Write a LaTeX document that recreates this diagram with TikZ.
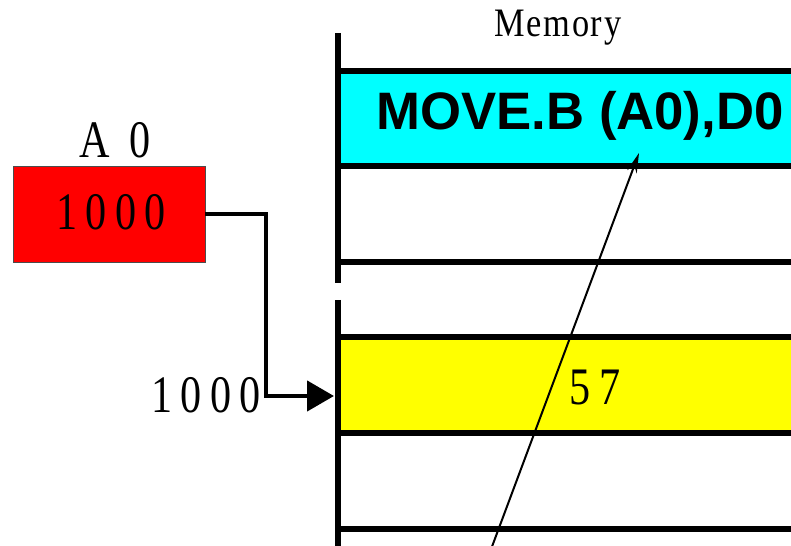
\documentclass[tikz,border=0pt]{standalone}
\usepackage{fontspec}
\setmainfont{Liberation Serif}
\newfontfamily\numfont[FakeStretch=0.8,LetterSpace=16]{Liberation Serif}
\newfontfamily\memfont[FakeStretch=0.85,LetterSpace=4]{Liberation Serif}
\newfontfamily\opfont{Liberation Sans}
\usetikzlibrary{arrows.meta}
\definecolor{inscyan}{RGB}{0,255,255}
\definecolor{datayellow}{RGB}{255,255,0}
\definecolor{regred}{RGB}{255,0,0}

\begin{document}
\begin{tikzpicture}[x=0.02cm,y=-0.02cm,>=stealth,
		bar/.style={line width=0.12cm},
		cell/.style={inner sep=0pt,minimum width=9cm,minimum height=1.9cm,anchor=north west},
		num/.style={font=\numfont\fontsize{30}{32}\selectfont,inner sep=0pt,anchor=base}]
	\useasboundingbox (0,0) rectangle (791,546);
	% memory cells
	\node[cell,fill=inscyan] (ins) at (341,71) {};
	\node[cell,fill=datayellow] (val) at (341,337.5) {};
	\foreach \y in {71,166,262,337.5,433,529}{
		\draw[bar] (335,\y) -- (795,\y);
	}
	\draw[bar] (338,33) -- (338,283);
	\draw[bar] (338,300) -- (338,560);
	\node[inner sep=0pt,anchor=base,font=\memfont\fontsize{23}{24}\selectfont] (mem) at (558,37) {Memory};
	\node[inner sep=0pt,anchor=base,font=\opfont\bfseries\fontsize{30}{32}\selectfont] (op) at (580,130) {MOVE.B (A0),D0};
	\node[num] (data) at (595,405) {57};
	% address register
	\node[draw=black!70,fill=regred,minimum width=3.84cm,minimum height=1.92cm,inner sep=0pt] (a0) at (109,214) {};
	\node[num] (a0val) at (111,230) {1000};
	\node[num] (a0name) at (115,158) {A 0};
	\node[num] (addr) at (206,413) {1000};
	\coordinate (cell1000) at (334,396);
	\draw[line width=0.09cm,-{Triangle[length=0.54cm,width=0.6cm]}] (a0.east) -| (266,396) -- (cell1000);
	% program counter pointing at the instruction
	\coordinate (tail) at (487,560);
	\coordinate (op1) at (639,153);
	\draw[line width=0.04cm,-{Stealth[length=0.4cm,width=0.2cm]}] (tail) -- (op1);
\end{tikzpicture}
\end{document}
